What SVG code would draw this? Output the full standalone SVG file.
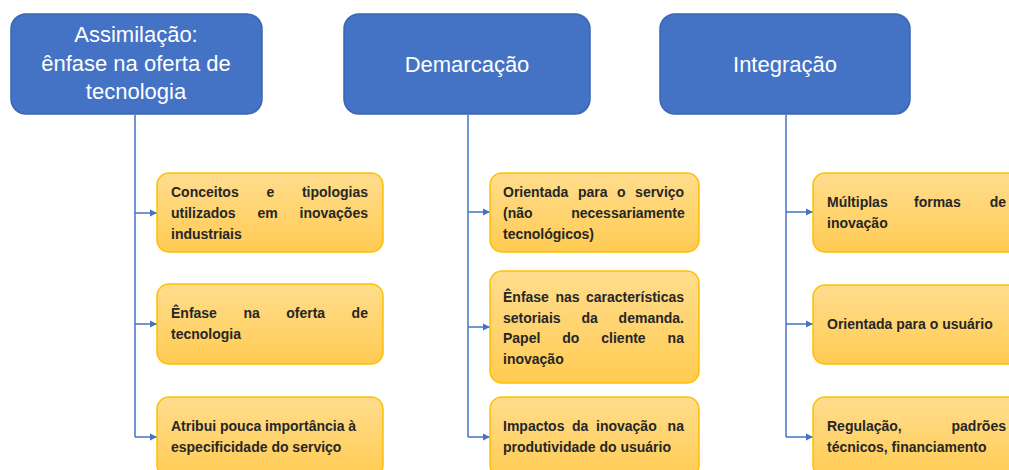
<svg xmlns="http://www.w3.org/2000/svg" width="1009" height="470" viewBox="0 0 1009 470">
<defs>
<linearGradient id="yg" x1="0" y1="0" x2="0" y2="1">
<stop offset="0" stop-color="#FFDD8E"/>
<stop offset="1" stop-color="#FFCB52"/>
</linearGradient>
<marker id="ah" markerWidth="8" markerHeight="8" refX="7" refY="4" orient="auto" markerUnits="userSpaceOnUse">
<path d="M0,0.5 L7,4 L0,7.5 z" fill="#4472C4"/>
</marker>
<style>
.hd{fill:#4472C4;stroke:#3A66B5;stroke-width:1.5}
.ht{font-family:"Liberation Sans",Arial,sans-serif;font-size:22px;fill:#FFFFFF;text-anchor:middle}
.yb{fill:url(#yg);stroke:#FFC000;stroke-width:1.5}
.bt{font-family:"Liberation Sans",Arial,sans-serif;font-size:14px;font-weight:bold;fill:#262626}
.en{text-anchor:end}
.cn{fill:none;stroke:#4472C4;stroke-width:1.5}
.ar{fill:none;stroke:#4472C4;stroke-width:1.5;marker-end:url(#ah)}
</style>
</defs>
<rect width="1009" height="470" fill="#FFFFFF"/>

<g id="connectors">
<path class="cn" d="M135,115 V437"/>
<path class="ar" d="M135,213 H157"/>
<path class="ar" d="M135,324 H157"/>
<path class="ar" d="M135,437 H157"/>
<path class="cn" d="M468,115 V437"/>
<path class="ar" d="M468,212 H490"/>
<path class="ar" d="M468,327 H490"/>
<path class="ar" d="M468,437 H490"/>
<path class="cn" d="M786,115 V437"/>
<path class="ar" d="M786,212 H813"/>
<path class="ar" d="M786,324 H813"/>
<path class="ar" d="M786,437 H813"/>
</g>

<g id="h1">
<rect class="hd" x="11" y="14" width="251" height="100" rx="15"/>
<text class="ht" x="136" y="42">Assimilação:</text>
<text class="ht" x="136" y="70.5">ênfase na oferta de</text>
<text class="ht" x="136" y="99">tecnologia</text>
</g>
<g id="h2">
<rect class="hd" x="344" y="14" width="246" height="100" rx="15"/>
<text class="ht" x="467" y="72">Demarcação</text>
</g>
<g id="h3">
<rect class="hd" x="660" y="14" width="250" height="100" rx="15"/>
<text class="ht" x="785" y="72">Integração</text>
</g>

<g id="a1">
<rect class="yb" x="157" y="173" width="226" height="79" rx="12"/>
<text class="bt" y="197"><tspan x="171">Conceitos</tspan><tspan x="266.4">e</tspan><tspan x="301.9">tipologias</tspan></text>
<text class="bt" y="218"><tspan x="171">utilizados</tspan><tspan x="257.4">em</tspan><tspan x="299.5">inovações</tspan></text>
<text class="bt" x="171" y="238.5">industriais</text>
</g>
<g id="a2">
<rect class="yb" x="157" y="284" width="226" height="80" rx="12"/>
<text class="bt" y="318"><tspan x="171">Ênfase</tspan><tspan x="243.4">na</tspan><tspan x="286.2">oferta</tspan><tspan x="351.6">de</tspan></text>
<text class="bt" x="171" y="338.5">tecnologia</text>
</g>
<g id="a3">
<rect class="yb" x="157" y="397" width="226" height="80" rx="12"/>
<text class="bt" x="171" y="431">Atribui pouca importância à</text>
<text class="bt" x="171" y="452">especificidade do serviço</text>
</g>

<g id="b1">
<rect class="yb" x="490" y="173" width="209" height="79" rx="12"/>
<text class="bt" y="197"><tspan x="503">Orientada</tspan><tspan x="577.9">para</tspan><tspan x="617">o</tspan><tspan x="635.1">serviço</tspan></text>
<text class="bt" y="218"><tspan x="503">(não</tspan><tspan x="571.2">necessariamente</tspan></text>
<text class="bt" x="503" y="238.5">tecnológicos)</text>
</g>
<g id="b2">
<rect class="yb" x="490" y="271" width="209" height="112" rx="12"/>
<text class="bt" y="302"><tspan x="503">Ênfase</tspan><tspan x="555.4">nas</tspan><tspan x="586">características</tspan></text>
<text class="bt" y="322.5"><tspan x="503">setoriais</tspan><tspan x="581.5">da</tspan><tspan x="618.6">demanda.</tspan></text>
<text class="bt" y="343"><tspan x="503">Papel</tspan><tspan x="562.3">do</tspan><tspan x="601.3">cliente</tspan><tspan x="667.6">na</tspan></text>
<text class="bt" x="503" y="363.5">inovação</text>
</g>
<g id="b3">
<rect class="yb" x="490" y="397" width="209" height="80" rx="12"/>
<text class="bt" y="431"><tspan x="503">Impactos</tspan><tspan x="572">da</tspan><tspan x="596">inovação</tspan><tspan x="667.6">na</tspan></text>
<text class="bt" x="503" y="452">produtividade do usuário</text>
</g>

<g id="c1">
<rect class="yb" x="813" y="173" width="220" height="79" rx="12"/>
<text class="bt" y="207"><tspan x="827">Múltiplas</tspan><tspan x="914">formas</tspan></text>
<text class="bt en" x="1006" y="207">de</text>
<text class="bt" x="827" y="227.5">inovação</text>
</g>
<g id="c2">
<rect class="yb" x="813" y="285" width="220" height="79" rx="12"/>
<text class="bt" x="827" y="329">Orientada para o usuário</text>
</g>
<g id="c3">
<rect class="yb" x="813" y="397" width="220" height="80" rx="12"/>
<text class="bt" x="827" y="431">Regulação,</text>
<text class="bt en" x="1006" y="431">padrões</text>
<text class="bt" x="827" y="452">técnicos, financiamento</text>
</g>
</svg>
